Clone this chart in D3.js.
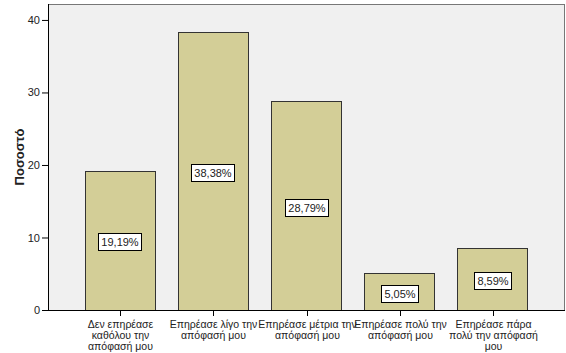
<!DOCTYPE html>
<html><head><meta charset="utf-8">
<script src="https://cdn.jsdelivr.net/npm/d3@7"></script>
<style>body{margin:0;background:#fff}svg{display:block;font-family:"Liberation Sans",Arial,sans-serif}</style>
</head><body>
<svg id="c" width="566" height="353"></svg>
<script>
const categories = [
  ["Δεν επηρέασε","καθόλου την","απόφασή μου"],
  ["Επηρέασε λίγο την","απόφασή μου"],
  ["Επηρέασε μέτρια την","απόφασή μου"],
  ["Επηρέασε πολύ την","απόφασή μου"],
  ["Επηρέασε πάρα","πολύ την απόφασή","μου"]
];
const values = [19.19, 38.38, 28.79, 5.05, 8.59];
const valueLabels = ["19,19%","38,38%","28,79%","5,05%","8,59%"];
const yTicks = [0,10,20,30,40];
const yTitle = "Ποσοστό";

const svg = d3.select("#c");
const L=48, R=565, T=4, B=310;
const x = d3.scaleBand().domain(d3.range(categories.length)).range([L,R]).paddingInner(0.247).paddingOuter(0.403);
const y = d3.scaleLinear().domain([0,42.2]).range([B,T]);

svg.append("rect").attr("x",L).attr("y",T).attr("width",R-L).attr("height",B-T).attr("fill","#f0f0f0");
svg.append("line").attr("x1",L).attr("x2",R).attr("y1",T+0.5).attr("y2",T+0.5).attr("stroke","#777");
svg.append("line").attr("x1",R-0.5).attr("x2",R-0.5).attr("y1",T).attr("y2",B).attr("stroke","#777");

svg.selectAll("rect.bar").data(values).join("rect").attr("class","bar")
  .attr("x",(d,i)=>Math.round(x(i))+0.5).attr("y",d=>Math.round(y(d))+0.5)
  .attr("width",Math.round(x.bandwidth())).attr("height",d=>B-Math.round(y(d)))
  .attr("fill","#d3ce97").attr("stroke","#333").attr("stroke-width",1);

// value labels
const lg = svg.selectAll("g.lab").data(values).join("g").attr("class","lab")
  .attr("transform",(d,i)=>`translate(${Math.round(x(i)+x.bandwidth()/2)},${Math.round((y(d)+B)/2)+2})`);
const lr = lg.append("rect").attr("y",-8.5).attr("height",17).attr("fill","#fff").attr("stroke","#000");
const lt = lg.append("text").attr("text-anchor","middle").attr("dy","0.36em").attr("font-size",11).attr("fill","#222").text((d,i)=>valueLabels[i]);
lg.each(function(){
  const g = d3.select(this);
  const w = Math.round(g.select("text").node().getComputedTextLength()) + 6;
  g.select("rect").attr("x",-Math.round(w/2)+0.5).attr("width",w);
});

// y axis
const ya = svg.append("g").attr("transform",`translate(${L},0)`)
  .call(d3.axisLeft(y).tickValues(yTicks).tickSize(6).tickPadding(2).tickFormat(d3.format("d")));
ya.select(".domain").attr("stroke","#000").attr("d",`M0.5,${T}V${B}`);
ya.selectAll(".tick line").attr("stroke","#000");
ya.selectAll(".tick text").attr("font-size",11).attr("fill","#222").attr("font-family","Liberation Sans, Arial, sans-serif");

// x axis
svg.append("line").attr("x1",L).attr("x2",R).attr("y1",B+0.5).attr("y2",B+0.5).attr("stroke","#000");
const xg = svg.selectAll("g.xt").data(categories).join("g").attr("class","xt")
  .attr("transform",(d,i)=>`translate(${Math.round(x(i)+x.bandwidth()/2)+0.5},${B})`);
xg.append("line").attr("y1",0).attr("y2",6).attr("stroke","#000");
xg.each(function(lines){
  const t = d3.select(this).append("text").attr("text-anchor","middle").attr("font-size",10.5).attr("fill","#222");
  lines.forEach((s,k)=>t.append("tspan").attr("x",0).attr("y",18+k*11).text(s));
});

svg.append("text").attr("transform",`translate(24,${(T+B)/2}) rotate(-90)`).attr("text-anchor","middle")
  .attr("font-size",13).attr("font-weight","bold").attr("fill","#222").text(yTitle);
</script>
</body></html>
